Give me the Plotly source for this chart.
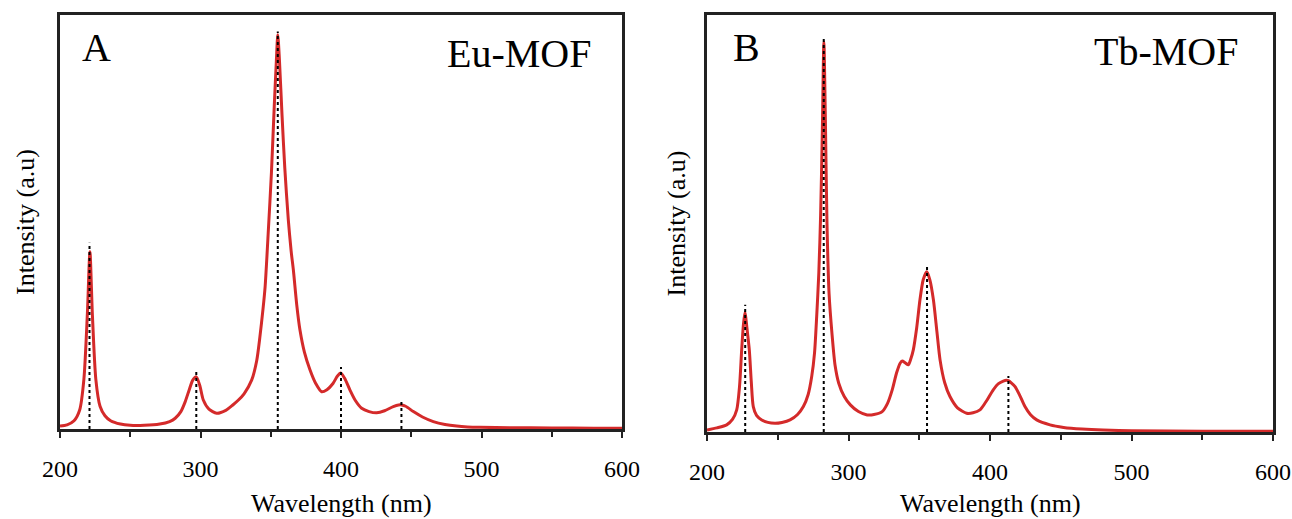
import plotly.graph_objects as go

# Excitation spectrum, Eu-MOF (wavelength nm, intensity a.u.)
eu_nm = [200, 205, 210, 214, 217, 219.5, 221.3, 223, 225.5, 228.5, 232, 236, 243, 250,
         260, 271, 278, 282, 286, 289, 292, 294.5, 297, 299.5, 302, 306, 311.5, 318,
         323, 327, 331, 336.4, 340, 342.3, 344.5, 346, 348.3, 350.5, 352.5, 354, 355,
         356.2, 358, 360, 362.5, 364.5, 366.1, 368.5, 370.8, 374, 377.9, 382, 386.2,
         390, 394.3, 397.5, 399.8, 402.5, 406.4, 410, 414.7, 420, 425.4, 431, 437.2,
         441, 443.2, 446, 451.5, 458, 465.7, 474, 482.3, 490, 498.9, 520, 550, 580, 600]
eu_int = [0.7, 1.0, 2.0, 4.6, 12, 28, 42.8, 28, 12, 5.5, 3.2, 2.0, 1.2, 0.9,
          0.9, 1.2, 1.8, 2.6, 4.2, 6.5, 9.5, 11.8, 12.6, 10.5, 7.0, 4.8, 3.8, 4.5,
          5.8, 7.0, 8.5, 11.8, 16.5, 22.3, 29, 34.4, 48, 62, 78, 89, 95.2,
          89, 76, 63, 50.5, 43, 38.4, 30, 23.9, 18.5, 14.3, 11, 9.0,
          9.5, 11.0, 12.8, 13.5, 12.3, 9.4, 7.0, 5.0, 4.2, 3.9, 4.4, 5.4,
          5.8, 5.8, 5.5, 4.2, 2.9, 1.8, 1.1, 0.7, 0.5, 0.4, 0.3, 0.25, 0.2, 0.2]

# Excitation spectrum, Tb-MOF
tb_nm = [200, 207, 213.9, 218, 221, 223, 224.5, 225.8, 226.9, 228.2, 229.9, 231.3, 232.7,
         235, 238.7, 243, 248.1, 253, 258.7, 264, 268.1, 271.5, 274, 276, 277.5, 279,
         280.3, 281.5, 282.6, 283.7, 284.8, 286.3, 288.3, 290.5, 293.1, 297, 301.3, 307,
         313.2, 318, 323.8, 327.5, 330.9, 334, 336.5, 338, 340, 342.3, 344, 345.8, 348.2,
         350.5, 352.8, 355.3, 357.5, 360, 362.5, 364.7, 368, 371.7, 377, 383.5, 388,
         392.9, 397, 402.3, 406, 409.4, 411.5, 413, 415, 417.7, 421, 424.7, 428.5, 433,
         442.4, 452, 465, 480, 500, 550, 600]
tb_int = [0.5, 1.0, 1.7, 3.0, 5.3, 11, 19.7, 26, 28.8, 25, 19.7, 12, 6.1,
          4.0, 2.9, 2.3, 2.1, 2.3, 2.9, 4.2, 6.1, 9.0, 13.3, 19, 27.6, 38,
          52, 72, 93.5, 74, 50, 33, 23.7, 16, 11.7, 8.5, 6.5, 4.9,
          4.1, 4.2, 4.9, 6.8, 10.1, 14.2, 16.5, 17.0, 16.6, 16.1, 17.5, 19.7, 25,
          31.7, 36.5, 38.4, 36.5, 31.7, 24, 17.3, 11.8, 8.5, 5.8, 4.5, 4.6,
          5.3, 7.2, 10.1, 11.6, 12.2, 12.4, 12.3, 11.8, 10.9, 8.8, 6.1, 4.2, 2.9,
          1.7, 1.1, 0.7, 0.45, 0.3, 0.2, 0.15]

# Peak markers (dotted guides): position and height
eu_peaks_nm = [221, 297, 355, 400, 443]
eu_peaks_top = [45, 14.2, 96, 15, 7.2]
tb_peaks_nm = [227, 282.5, 355.5, 413]
tb_peaks_top = [30.5, 94.7, 39.8, 13.4]

x_ticks = [200, 300, 400, 500, 600]

W, H = 1292, 519
SERIF = "Liberation Serif, Times New Roman, serif"
RED = "#d42a2a"

fig = go.Figure()


def add_panel(nm, inten, peaks, tops, xa, ya):
    fig.add_trace(go.Scatter(x=nm, y=inten, mode="lines", xaxis=xa, yaxis=ya,
                             line=dict(color=RED, width=3, shape="spline", smoothing=0.7),
                             hoverinfo="skip", showlegend=False))
    for p, t in zip(peaks, tops):
        fig.add_trace(go.Scatter(x=[p, p], y=[0, t], mode="lines", xaxis=xa, yaxis=ya,
                                 line=dict(color="black", width=2, dash="dot"),
                                 hoverinfo="skip", showlegend=False))


add_panel(eu_nm, eu_int, eu_peaks_nm, eu_peaks_top, "x", "y")
add_panel(tb_nm, tb_int, tb_peaks_nm, tb_peaks_top, "x2", "y2")


def xaxis_style(x0, x1, anchor):
    return dict(domain=[x0 / W, x1 / W], anchor=anchor, range=[200, 600],
                automargin=False,
                tickvals=x_ticks, ticks="outside", ticklen=6, tickwidth=2,
                tickcolor="#222", showline=True, linecolor="#222", linewidth=2.5,
                mirror=True, showgrid=False, zeroline=False,
                ticklabelstandoff=10,
                tickfont=dict(family=SERIF, size=24, color="black"),
                minor=dict(tickvals=[250, 350, 450, 550], ticks="outside",
                           ticklen=5, tickwidth=2, tickcolor="#222"))


def yaxis_style(y0, y1, anchor):
    return dict(domain=[1 - y1 / H, 1 - y0 / H], anchor=anchor, range=[0, 100],
                automargin=False,
                showticklabels=False, ticks="", showline=True, linecolor="#222",
                linewidth=2.5, mirror=True, showgrid=False, zeroline=False)


fig.update_layout(
    width=W, height=H, margin=dict(l=0, r=0, t=0, b=0, autoexpand=False),
    paper_bgcolor="white", plot_bgcolor="white",
    xaxis=xaxis_style(60, 622, "y"),
    yaxis=yaxis_style(15, 429, "x"),
    xaxis2=xaxis_style(707, 1273, "y2"),
    yaxis2=yaxis_style(15, 432, "x2"),
)

annots = [
    dict(text="A", x=96, y=48, xanchor="center"),
    dict(text="Eu-MOF", x=593, y=53, xanchor="right"),
    dict(text="B", x=746, y=48, xanchor="center"),
    dict(text="Tb-MOF", x=1240, y=51, xanchor="right"),
]
for a in annots:
    fig.add_annotation(text=a["text"], xref="paper", yref="paper",
                       x=a["x"] / W, y=1 - a["y"] / H, xanchor=a["xanchor"],
                       yanchor="middle", showarrow=False,
                       font=dict(family=SERIF, size=40, color="black"))

# Axis titles
for xc in [(60 + 622) / 2, (707 + 1273) / 2]:
    fig.add_annotation(text="Wavelength (nm)", xref="paper", yref="paper",
                       x=xc / W, y=1 - 503 / H, xanchor="center", yanchor="middle",
                       showarrow=False,
                       font=dict(family=SERIF, size=26, color="black"))

for xc, ytop, ybot in [(25, 15, 429), (676, 15, 432)]:
    fig.add_annotation(text="Intensity (a.u)", xref="paper", yref="paper",
                       x=xc / W, y=1 - (ytop + ybot) / 2 / H, textangle=-90,
                       xanchor="center", yanchor="middle", showarrow=False,
                       font=dict(family=SERIF, size=26, color="black"))

fig.write_html("out.html")
